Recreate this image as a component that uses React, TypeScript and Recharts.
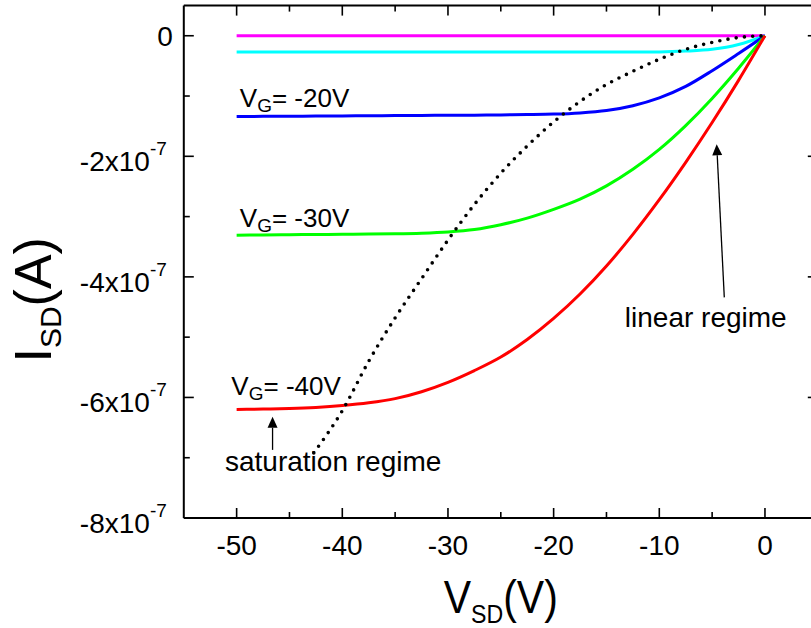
import React from 'react';
import { LineChart, Line, XAxis, YAxis, ReferenceDot, ReferenceLine } from 'recharts';

const FONT = '"Liberation Sans", Arial, Helvetica, sans-serif';

// V_SD sample points (V)
const vSD = [-50, -47.5, -45, -42.5, -40, -37.5, -35, -32.5, -30, -27.5, -25, -22.5, -20, -17.5, -15, -12.5, -10, -7.5, -5, -2.5, 0];
// I_SD in units of 1e-7 A
const iVg0 = [0, 0, 0, 0, 0, 0, 0, 0, 0, 0, 0, 0, 0, 0, 0, 0, 0, 0, 0, 0, 0];
const iVg10 = [-0.27, -0.27, -0.27, -0.27, -0.27, -0.27, -0.27, -0.27, -0.27, -0.27, -0.27, -0.27, -0.27, -0.27, -0.27, -0.27, -0.268, -0.255, -0.225, -0.145, 0];
const iVg20 = [-1.34, -1.3375, -1.335, -1.3325, -1.33, -1.327, -1.325, -1.322, -1.32, -1.317, -1.313, -1.308, -1.3, -1.28, -1.24, -1.16, -1.03, -0.84, -0.58, -0.295, 0];
const iVg30 = [-3.31, -3.305, -3.3, -3.298, -3.295, -3.29, -3.285, -3.275, -3.255, -3.215, -3.135, -3.025, -2.88, -2.71, -2.49, -2.215, -1.885, -1.49, -1.04, -0.54, 0];
const iVg40 = [-6.2, -6.193, -6.183, -6.165, -6.135, -6.09, -6.02, -5.905, -5.75, -5.555, -5.33, -5.04, -4.69, -4.285, -3.82, -3.295, -2.72, -2.1, -1.44, -0.74, 0];

// saturation boundary (dotted)
const vSat = [-42.7, -40, -37.5, -35, -32.5, -30, -27.5, -25, -22.5, -20, -17.5, -15, -12.5, -10, -7.5, -5, -2.5, 0];
const iSat = [-6.92, -6.22, -5.4, -4.68, -4.03, -3.39, -2.8, -2.28, -1.83, -1.43, -1.09, -0.81, -0.59, -0.39, -0.225, -0.11, -0.03, 0];

const xTicks = [-50, -45, -40, -35, -30, -25, -20, -15, -10, -5, 0];
const yTicks = [-8, -7, -6, -5, -4, -3, -2, -1, 0];

const curve = (xs: number[], ys: number[]) => xs.map((v, k) => ({ v, i: ys[k] }));

const XTick = (p: any) => {
  const { x, y, payload } = p;
  const v = payload.value;
  const major = v % 10 === 0;
  return (
    <g>
      <line x1={x} x2={x} y1={y} y2={y - (major ? 10 : 6)} stroke="#000" strokeWidth={1.6} />
      {major && (
        <text x={x} y={y + 37} textAnchor="middle" fontSize={28} fontFamily={FONT} fill="#000">
          {String(v)}
        </text>
      )}
    </g>
  );
};

const XTopTick = (p: any) => {
  const { x, y, payload } = p;
  const major = payload.value % 10 === 0;
  return <line x1={x} x2={x} y1={y} y2={y + (major ? 10 : 6)} stroke="#000" strokeWidth={1.6} />;
};

const YTick = (p: any) => {
  const { x, y, payload } = p;
  const v = payload.value;
  const major = v % 2 === 0;
  return (
    <g>
      <line x1={x} x2={x + (major ? 10 : 6)} y1={y} y2={y} stroke="#000" strokeWidth={1.6} />
      {major && v === 0 && (
        <text x={x - 11} y={y + 10} textAnchor="end" fontSize={28} fontFamily={FONT} fill="#000">0</text>
      )}
      {major && v !== 0 && (
        <text x={x - 17} y={y + 15} textAnchor="end" fontSize={28} fontFamily={FONT} fill="#000">
          {`${v}x10`}
          <tspan dy={-16} fontSize={19}>-7</tspan>
        </text>
      )}
    </g>
  );
};

const YRightTick = (p: any) => {
  const { x, y, payload } = p;
  const major = payload.value % 2 === 0;
  return <line x1={x} x2={x - (major ? 10 : 6)} y1={y} y2={y} stroke="#000" strokeWidth={1.6} />;
};

const XTitle = (p: any) => {
  const vb = p.viewBox || { x: 183.8, y: 518, width: 634, height: 110 };
  const cx = vb.x + vb.width / 2;
  return (
    <text x={cx} y={vb.y + 95} textAnchor="middle" fontSize={46} fontFamily={FONT} fill="#000" textLength={114} lengthAdjust="spacingAndGlyphs">
      V<tspan fontSize={26} dy={10}>SD</tspan><tspan dy={-10}>(V)</tspan>
    </text>
  );
};

const YTitle = (p: any) => {
  const vb = p.viewBox || { x: 0, y: 5.6, width: 183.8, height: 512.4 };
  const cx = vb.x + 51;
  const cy = vb.y + vb.height / 2 + 38;
  return (
    <text x={cx} y={cy} transform={`rotate(-90, ${cx}, ${cy})`} textAnchor="middle" fontSize={52} fontFamily={FONT} fill="#000">
      I<tspan fontSize={30} dy={10}>SD</tspan><tspan dy={-10}>(A)</tspan>
    </text>
  );
};

const vgLabel = (vg: string) => (p: any) => (
  <text x={p.cx} y={p.cy} fontSize={26} fontFamily={FONT} fill="#000">
    V<tspan fontSize={19} dy={5}>G</tspan><tspan dy={-5}>{`= ${vg}`}</tspan>
  </text>
);

const plainLabel = (txt: string) => (p: any) => (
  <text x={p.cx} y={p.cy} fontSize={28} fontFamily={FONT} fill="#000">{txt}</text>
);

const Arrow = (p: any) => {
  const { x1, y1, x2, y2 } = p;
  const dx = x2 - x1;
  const dy = y2 - y1;
  const len = Math.sqrt(dx * dx + dy * dy) || 1;
  const ux = dx / len;
  const uy = dy / len;
  const hl = 11;
  const hw = 5;
  const bx = x2 - ux * hl;
  const by = y2 - uy * hl;
  return (
    <g>
      <line x1={x1} y1={y1} x2={bx} y2={by} stroke="#000" strokeWidth={1.3} />
      <polygon
        points={`${x2},${y2} ${bx - uy * hw},${by + ux * hw} ${bx + uy * hw},${by - ux * hw}`}
        fill="#000"
      />
    </g>
  );
};

const LINE_TYPE = 'monotone';

export default function App() {
  return (
    <div style={{ position: 'absolute', left: 0, top: 0, width: 811, height: 628, overflow: 'hidden', background: '#fff' }}>
      <LineChart width={830} height={628} margin={{ top: 4.6, right: 11.2, left: 0, bottom: 0 }}>
        <XAxis
          xAxisId={0}
          dataKey="v"
          type="number"
          domain={[-55, 5]}
          ticks={xTicks}
          interval={0}
          allowDataOverflow
          height={110}
          tickSize={0}
          tickMargin={0}
          tick={<XTick />}
          axisLine={{ stroke: '#000', strokeWidth: 2 }}
          tickLine={false}
          label={{ content: (lp: any) => <XTitle {...lp} /> }}
        />
        <XAxis
          xAxisId="top"
          orientation="top"
          dataKey="v"
          type="number"
          domain={[-55, 5]}
          ticks={xTicks}
          interval={0}
          allowDataOverflow
          height={1}
          tickSize={0}
          tickMargin={0}
          tick={<XTopTick />}
          axisLine={{ stroke: '#000', strokeWidth: 2 }}
          tickLine={false}
        />
        <YAxis
          yAxisId={0}
          type="number"
          domain={[-8, 0.5]}
          ticks={yTicks}
          interval={0}
          allowDataOverflow
          width={183.8}
          tickSize={0}
          tickMargin={0}
          tick={<YTick />}
          axisLine={{ stroke: '#000', strokeWidth: 2 }}
          tickLine={false}
          label={{ content: (lp: any) => <YTitle {...lp} /> }}
        />
        <YAxis
          yAxisId="right"
          orientation="right"
          type="number"
          domain={[-8, 0.5]}
          ticks={yTicks}
          interval={0}
          allowDataOverflow
          width={1}
          tickSize={0}
          tickMargin={0}
          tick={<YRightTick />}
          axisLine={{ stroke: '#000', strokeWidth: 2 }}
          tickLine={false}
        />
        <Line data={curve(vSD, iVg0)} dataKey="i" type={LINE_TYPE} stroke="#FF00FF" strokeWidth={3} dot={false} activeDot={false} isAnimationActive={false} />
        <Line data={curve(vSD, iVg10)} dataKey="i" type={LINE_TYPE} stroke="#00FFFF" strokeWidth={3} dot={false} activeDot={false} isAnimationActive={false} />
        <Line data={curve(vSD, iVg20)} dataKey="i" type={LINE_TYPE} stroke="#0000FF" strokeWidth={3} dot={false} activeDot={false} isAnimationActive={false} />
        <Line data={curve(vSD, iVg30)} dataKey="i" type={LINE_TYPE} stroke="#00FF00" strokeWidth={3} dot={false} activeDot={false} isAnimationActive={false} />
        <Line data={curve(vSD, iVg40)} dataKey="i" type={LINE_TYPE} stroke="#FF0000" strokeWidth={3} dot={false} activeDot={false} isAnimationActive={false} />
        <Line data={curve(vSat, iSat)} dataKey="i" type={LINE_TYPE} stroke="#000" strokeWidth={3.6} strokeLinecap="round" strokeDasharray="0 8.3" dot={false} activeDot={false} isAnimationActive={false} />

        <ReferenceDot x={-49.7} y={-1.19} r={1} fill="none" stroke="none" ifOverflow="visible" shape={vgLabel('-20V')} />
        <ReferenceDot x={-49.7} y={-3.18} r={1} fill="none" stroke="none" ifOverflow="visible" shape={vgLabel('-30V')} />
        <ReferenceDot x={-50.5} y={-5.96} r={1} fill="none" stroke="none" ifOverflow="visible" shape={vgLabel('-40V')} />
        <ReferenceDot x={-51.1} y={-7.22} r={1} fill="none" stroke="none" ifOverflow="visible" shape={plainLabel('saturation regime')} />
        <ReferenceDot x={-13.26} y={-4.83} r={1} fill="none" stroke="none" ifOverflow="visible" shape={plainLabel('linear regime')} />

        <ReferenceLine segment={[{ x: -46.6, y: -6.87 }, { x: -46.6, y: -6.32 }]} ifOverflow="visible" shape={Arrow} />
        <ReferenceLine segment={[{ x: -3.85, y: -4.34 }, { x: -4.57, y: -1.8 }]} ifOverflow="visible" shape={Arrow} />
      </LineChart>
    </div>
  );
}
